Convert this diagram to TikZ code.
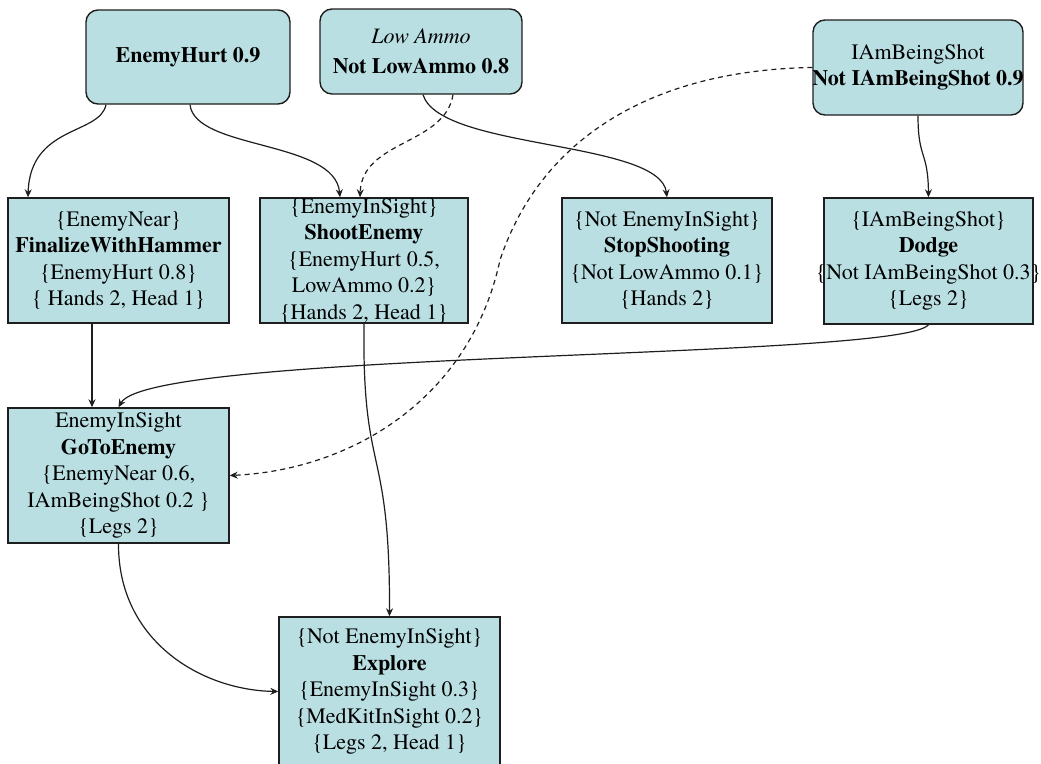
\documentclass[tikz,border=0pt]{standalone}
\usepackage{fontspec}
\setmainfont{texgyretermes}[Extension=.otf, UprightFont=*-regular,
  BoldFont=*-bold, ItalicFont=*-italic, BoldItalicFont=*-bolditalic]
\usetikzlibrary{arrows.meta}
\definecolor{boxfill}{HTML}{B9DFE3}
\definecolor{edgeink}{HTML}{1E1E1E}
\tikzset{
  base/.style={draw=edgeink, line width=1.4pt, fill=boxfill, inner sep=0pt,
    align=center, text=black, font=\fontsize{22}{26.5}\selectfont},
  goal/.style={base, rounded corners=12pt},
  act/.style={base},
  link/.style={draw=edgeink, line width=1.2pt, -{Stealth[length=8pt,width=7pt]}},
  weak/.style={link, dash pattern=on 5pt off 4pt}
}
% a line that may spill past its box on both sides
\newcommand{\spill}[1]{\makebox[190pt]{#1}}
\begin{document}
\begin{tikzpicture}[x=1pt,y=-1pt]
\useasboundingbox (0,0) rectangle (1041,763);

% goals
\node[goal, minimum width=204pt, minimum height=94pt] (hurt) at (188,57)
  {\textbf{EnemyHurt 0.9}};
\node[goal, minimum width=202pt, minimum height=85pt] (ammo) at (421,51.5)
  {\textit{Low Ammo}\\[3pt]\textbf{Not LowAmmo 0.8}};
\node[goal, minimum width=210pt, minimum height=95pt] (shot) at (918,67.5)
  {IAmBeingShot\\\spill{\textbf{Not IAmBeingShot 0.9}}};

% actions
\node[act, minimum width=221pt, minimum height=125pt] (fin) at (118.5,260.5)
  {\{EnemyNear\}\\\textbf{FinalizeWithHammer}\\\{EnemyHurt 0.8\}\\\{ Hands 2, Head 1\}};
\node[act, minimum width=208pt, minimum height=125pt] (shoot) at (364,260.5)
  {\{EnemyInSight\}\\\textbf{ShootEnemy}\\\{EnemyHurt 0.5,\\LowAmmo 0.2\}\\\{Hands 2, Head 1\}};
\node[act, minimum width=210pt, minimum height=125pt] (stop) at (667,260.5)
  {\{Not EnemyInSight\}\\\textbf{StopShooting}\\\{Not LowAmmo 0.1\}\\\{Hands 2\}};
\node[act, minimum width=209pt, minimum height=126pt] (dodge) at (928.5,261)
  {\{IAmBeingShot\}\\\textbf{Dodge}\\\spill{\{Not IAmBeingShot 0.3\}}\\\{Legs 2\}};
\node[act, minimum width=221pt, minimum height=135pt] (go) at (118.5,475.5)
  {EnemyInSight\\\textbf{GoToEnemy}\\\{EnemyNear 0.6,\\IAmBeingShot 0.2 \}\\\{Legs 2\}};
\node[act, minimum width=221pt, minimum height=149pt] (explore) at (389.5,691.5)
  {\{Not EnemyInSight\}\\\textbf{Explore}\\\{EnemyInSight 0.3\}\\\{MedKitInSight 0.2\}\\\{Legs 2, Head 1\}};

% connectors
\draw[link] ([xshift=-82pt]hurt.south) .. controls (100,135) and (30,125) .. ([xshift=-90.5pt]fin.north);
\draw[link] ([xshift=2pt]hurt.south) .. controls (195,150) and (335,140) .. ([xshift=-24pt]shoot.north);
\draw[weak] ([xshift=32pt]ammo.south) .. controls (445,145) and (362,140) .. ([xshift=-4pt]shoot.north);
\draw[link] ([xshift=2pt]ammo.south) .. controls (440,150) and (660,140) .. (stop.north);
\draw[weak] (shot.west) .. controls (650,70) and (540,140) .. (500,260)
  .. controls (470,400) and (350,470) .. (go.east);
\draw[link] (shot.south) .. controls (918,160) and (928,150) .. (dodge.north);
\draw[link] (dodge.south) .. controls (900,360) and (150,350) .. (go.north);
\draw[link] ([xshift=-26.5pt]fin.south) -- ([xshift=-26.5pt]go.north);
\draw[link] (shoot.south) .. controls (362,480) and (390,440) .. (explore.north);
\draw[link] (go.south) .. controls (118,640) and (200,690) .. (explore.west);
\end{tikzpicture}
\end{document}
